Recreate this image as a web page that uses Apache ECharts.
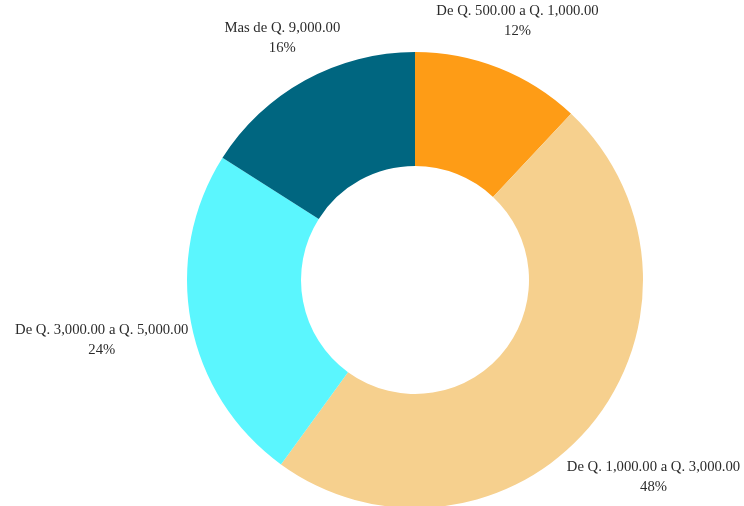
<!DOCTYPE html>
<html>
<head>
<meta charset="utf-8">
<style>html,body{margin:0;padding:0;background:#fff;}#c{width:744px;height:506px;}</style>
<script src="https://cdn.jsdelivr.net/npm/echarts@6/dist/echarts.min.js"></script>
</head>
<body>
<div id="c"></div>
<script>
var categories = ['De Q. 500.00 a Q. 1,000.00', 'De Q. 1,000.00 a Q. 3,000.00', 'De Q. 3,000.00 a Q. 5,000.00', 'Mas de Q. 9,000.00'];
var values = [12, 48, 24, 16];
var colors = ['#FE9C16', '#F6D08E', '#5BF6FE', '#006680'];

var CX = 415, CY = 280, R_IN = 114, R_OUT = 228, LABEL_GAP = 2;
var total = values.reduce(function (a, b) { return a + b; }, 0);

var chart = echarts.init(document.getElementById('c'), null, { renderer: 'canvas' });
chart.setOption({
  animation: false,
  backgroundColor: '#ffffff',
  series: [{
    type: 'pie',
    center: [CX, CY],
    radius: [R_IN, R_OUT],
    startAngle: 90,
    clockwise: true,
    avoidLabelOverlap: false,
    data: categories.map(function (c, i) {
      return { name: c, value: values[i], itemStyle: { color: colors[i] } };
    }),
    itemStyle: { borderWidth: 0 },
    label: {
      show: true,
      position: 'outside',
      formatter: '{b}\n{d}%',
      fontFamily: '"Liberation Serif", "Times New Roman", serif',
      fontSize: 14.7,
      lineHeight: 20,
      color: '#2b2b2b',
      align: 'center'
    },
    labelLine: { show: false },
    emphasis: { disabled: true },
    labelLayout: function (p) {
      var i = p.dataIndex, before = 0;
      for (var k = 0; k < i; k++) before += values[k];
      var mid = (before + values[i] / 2) / total * Math.PI * 2;
      var dx = Math.sin(mid), dy = -Math.cos(mid);
      var w = p.labelRect.width, h = p.labelRect.height;
      var r = R_OUT + LABEL_GAP + Math.abs(dx) * w / 2 + Math.abs(dy) * h / 2;
      return { x: CX + dx * r, y: CY + dy * r, align: 'center', verticalAlign: 'middle' };
    }
  }]
});
</script>
</body>
</html>
